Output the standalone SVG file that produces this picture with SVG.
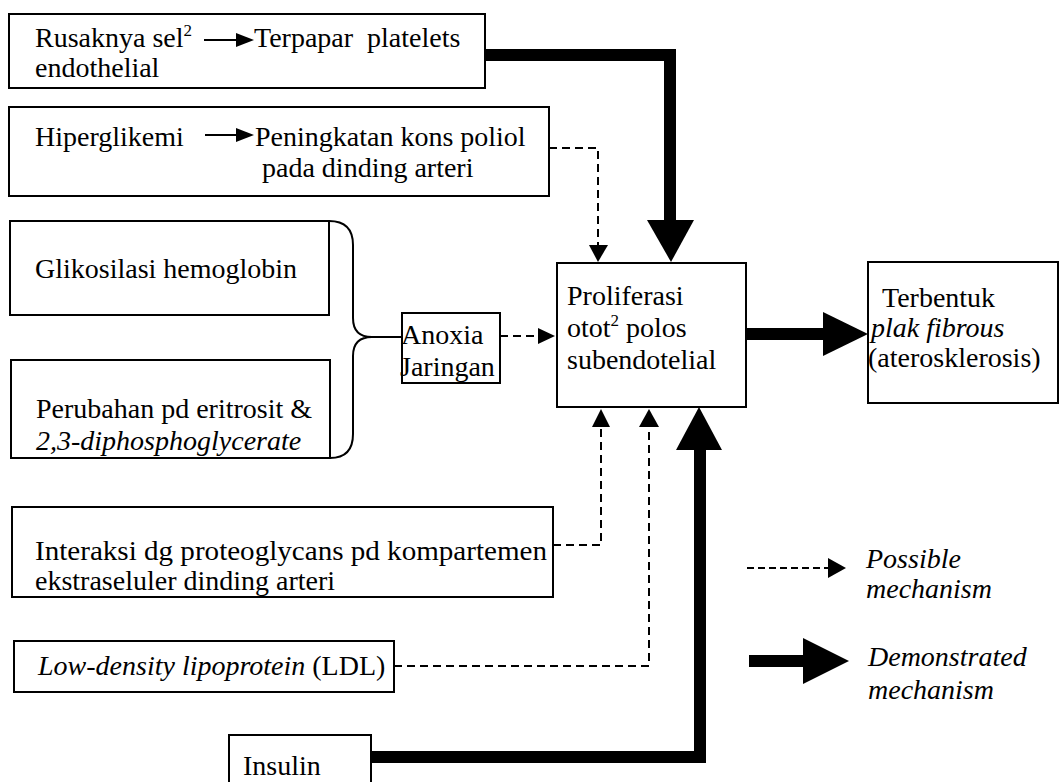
<svg xmlns="http://www.w3.org/2000/svg" width="1060" height="782" viewBox="0 0 1060 782">
<style>
.box{fill:#fff;stroke:#000;stroke-width:2}
.t{font-family:'Liberation Serif','Times New Roman',serif;font-size:28px;fill:#000}
.i{font-style:italic}
.sup{font-size:17px}
.thick{fill:none;stroke:#000;stroke-width:12}
.dash{fill:none;stroke:#000;stroke-width:2;stroke-dasharray:8 5}
.thin{fill:none;stroke:#000;stroke-width:2}
.head{fill:#000}
</style>
<rect width="1060" height="782" fill="#fff"/>
<g id="connectors">
  <path class="thick" d="M485,55 H670 V222"/>
  <polygon class="head" points="647,220 694,220 671,262"/>
  <path class="dash" d="M549,148 H598 V246"/>
  <polygon class="head" points="589,245 608,245 598,262"/>
  <path class="thin" d="M329,221 Q353,221 353,245 L353,318 Q353,337 372,337 Q353,337 353,356 L353,434 Q353,458 330,458"/>
  <path class="thin" d="M372,337 H402"/>
  <path class="dash" d="M500,336 H540"/>
  <polygon class="head" points="538,328 538,344 555,336"/>
  <path class="thick" d="M746,334 H825"/>
  <polygon class="head" points="823,312 823,356 868,334"/>
  <path class="dash" d="M553,545 H601 V426"/>
  <polygon class="head" points="592,427 610,427 601,409"/>
  <path class="dash" d="M394,666 H649 V426"/>
  <polygon class="head" points="639,427 659,427 649,409"/>
  <path class="thick" d="M371,757 H700 V448"/>
  <polygon class="head" points="676,450 722,450 699,407"/>
</g>
<g id="n-rusak">
  <rect class="box" x="9" y="14" width="476" height="74"/>
  <text class="t" x="35" y="47">Rusaknya sel<tspan class="sup" dy="-11">2</tspan></text>
  <path class="thin" d="M204,40 H238"/>
  <polygon class="head" points="236,33 236,47 254,40"/>
  <text class="t" x="254" y="47" xml:space="preserve">Terpapar  platelets</text>
  <text class="t" x="35" y="77">endothelial</text>
</g>
<g id="n-hiper">
  <rect class="box" x="9" y="107" width="540" height="89"/>
  <text class="t" x="35" y="146">Hiperglikemi</text>
  <path class="thin" d="M205,135 H238"/>
  <polygon class="head" points="236,128 236,142 254,135"/>
  <text class="t" x="255" y="146">Peningkatan kons poliol</text>
  <text class="t" x="262" y="177">pada dinding arteri</text>
</g>
<g id="n-glikosilasi">
  <rect class="box" x="10" y="221" width="319" height="94"/>
  <text class="t" x="35" y="278">Glikosilasi hemoglobin</text>
</g>
<g id="n-perubahan">
  <rect class="box" x="11" y="360" width="319" height="98"/>
  <text class="t" x="36" y="418">Perubahan pd eritrosit &amp;</text>
  <text class="t i" x="36" y="450">2,3-diphosphoglycerate</text>
</g>
<g id="n-anoxia">
  <rect class="box" x="402" y="313" width="98" height="70"/>
  <text class="t" x="401" y="344">Anoxia</text>
  <text class="t" x="400" y="376">Jaringan</text>
</g>
<g id="n-interaksi">
  <rect class="box" x="12" y="507" width="541" height="90"/>
  <text class="t" x="35" y="560" textLength="512" lengthAdjust="spacingAndGlyphs">Interaksi dg proteoglycans pd kompartemen</text>
  <text class="t" x="35" y="590">ekstraseluler dinding arteri</text>
</g>
<g id="n-ldl">
  <rect class="box" x="14" y="641" width="380" height="51"/>
  <text class="t" x="38" y="675"><tspan class="i">Low-density lipoprotein</tspan> (LDL)</text>
</g>
<g id="n-insulin">
  <rect class="box" x="229" y="735" width="142" height="60"/>
  <text class="t" x="243" y="775">Insulin</text>
</g>
<g id="n-proliferasi">
  <rect class="box" x="557" y="263" width="189" height="144"/>
  <text class="t" x="567" y="305">Proliferasi</text>
  <text class="t" x="567" y="337">otot<tspan class="sup" dy="-11">2</tspan><tspan dy="11"> polos</tspan></text>
  <text class="t" x="567" y="369">subendotelial</text>
</g>
<g id="n-terbentuk">
  <rect class="box" x="868" y="262" width="190" height="141"/>
  <text class="t" x="882" y="307">Terbentuk</text>
  <text class="t i" x="871" y="337">plak fibrous</text>
  <text class="t" x="868" y="367">(aterosklerosis)</text>
</g>
<g id="legend">
  <path class="dash" d="M747,568 H830" style="stroke-dasharray:7 4"/>
  <polygon class="head" points="828,558 828,578 846,568"/>
  <text class="t i" x="866" y="568">Possible</text>
  <text class="t i" x="866" y="598">mechanism</text>
  <rect class="head" x="749" y="655" width="56" height="12"/>
  <polygon class="head" points="803,638 803,684 849,661"/>
  <text class="t i" x="868" y="666">Demonstrated</text>
  <text class="t i" x="868" y="699">mechanism</text>
</g>
</svg>
